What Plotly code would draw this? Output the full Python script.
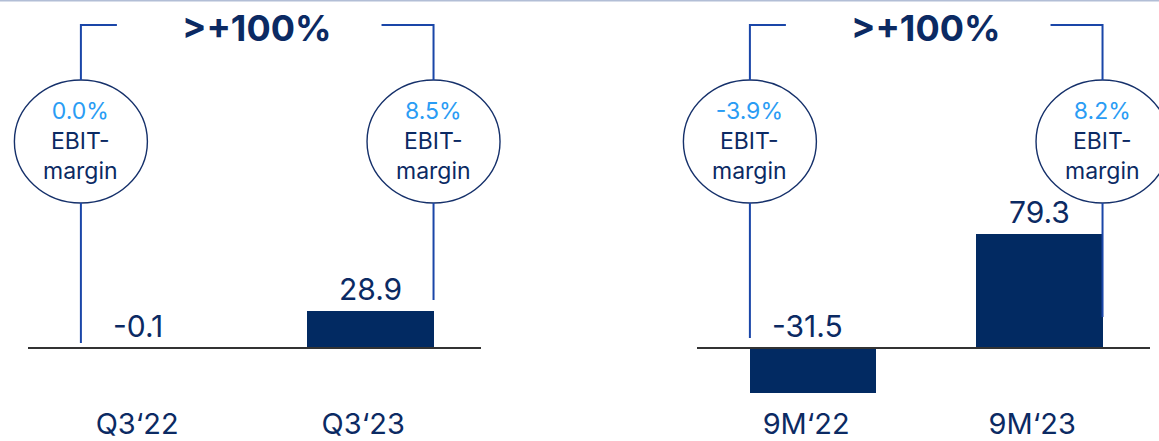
import plotly.graph_objects as go

# EBIT in EUR m, quarter and nine-month comparison
q_periods = ["Q3‘22", "Q3‘23"]
q_ebit = [-0.1, 28.9]
q_margin = ["0.0%", "8.5%"]

m_periods = ["9M‘22", "9M‘23"]
m_ebit = [-31.5, 79.3]
m_margin = ["-3.9%", "8.2%"]

growth_label = ">+100%"

W, H = 1159, 441
FONT = "Inter"
NAVY = "#0b2a63"
BAR = "#022a62"
LIGHT = "#2a9cf4"
BRACKET = "#1a46a8"
XRANGE = [-0.514, 1.49]
BAR_W = 0.56


def py(p):
    """pixel row -> paper y"""
    return 1 - p / H


def px(p):
    """pixel column -> paper x"""
    return p / W


fig = go.Figure()

panels = [
    dict(x="x", y="y", periods=q_periods, ebit=q_ebit, margin=q_margin,
         dom=(28, 481), yr=(348 / 1.28, -(400 - 348) / 1.28), stems=(343, 300)),
    dict(x="x2", y="y2", periods=m_periods, ebit=m_ebit, margin=m_margin,
         dom=(697, 1150), yr=(348 / 1.44, -(400 - 348) / 1.44), stems=(338, 317)),
]

shapes = []
annotations = []

for i, p in enumerate(panels):
    xs = list(range(len(p["periods"])))
    d0, d1 = p["dom"]
    scale = (d1 - d0) / (XRANGE[1] - XRANGE[0])

    def to_px(xv, d0=d0, scale=scale):
        return d0 + (xv - XRANGE[0]) * scale

    fig.add_trace(go.Bar(
        x=xs, y=p["ebit"], width=BAR_W, marker=dict(color=BAR, line=dict(width=0)),
        xaxis=p["x"], yaxis=p["y"], showlegend=False, hoverinfo="skip",
    ))
    sfx = "" if i == 0 else "2"
    fig.update_layout(**{
        "xaxis" + sfx: dict(
            domain=[px(d0), px(d1)], range=XRANGE,
            tickvals=xs, ticktext=p["periods"], showgrid=False, zeroline=False,
            showline=False, ticks="", ticklabelshift=-7, ticklabelstandoff=4,
            tickfont=dict(family=FONT, size=29, color=NAVY), fixedrange=True,
            automargin=False, anchor="y" + sfx,
        ),
        "yaxis" + sfx: dict(
            domain=[py(400), 1], range=[p["yr"][1], p["yr"][0]],
            showgrid=False, showticklabels=False, zeroline=False,
            fixedrange=True, automargin=False, anchor="x" + sfx,
        ),
    })

    # baseline drawn over the bars
    shapes.append(dict(type="line", xref=p["x"] + " domain", yref=p["y"],
                       x0=0, x1=1, y0=0, y1=0, layer="above",
                       line=dict(color="#333333", width=2)))

    # value labels above the bar (or above the axis for negative values)
    for xv, v in zip(xs, p["ebit"]):
        annotations.append(dict(
            x=xv, y=max(v, 0), xref=p["x"], yref=p["y"], text=f"{v:.1f}",
            showarrow=False, yanchor="middle", yshift=22, xshift=-6 if v < 0 else 0,
            font=dict(family=FONT, size=30, color=NAVY),
        ))

    # margin bubbles sit on the outer bar edges, joined by a bracket
    edges = [to_px(xs[0] - BAR_W / 2), to_px(xs[-1] + BAR_W / 2)]
    arms = [36, -52]
    rx = 66.5
    for edge, arm, m, stem in zip(edges, arms, p["margin"], p["stems"]):
        shapes.append(dict(type="circle", xref="paper", yref="paper",
                           x0=px(edge - rx), x1=px(edge + rx), y0=py(203), y1=py(80),
                           line=dict(color="#15306a", width=1.4)))
        shapes.append(dict(type="path", xref="paper", yref="paper",
                           path=(f"M {px(edge + arm)},{py(25)} L {px(edge)},{py(25)} "
                                 f"L {px(edge)},{py(80)}"),
                           line=dict(color=BRACKET, width=2)))
        shapes.append(dict(type="line", xref="paper", yref="paper",
                           x0=px(edge), x1=px(edge), y0=py(203), y1=py(stem),
                           line=dict(color=BRACKET, width=2)))
        annotations.append(dict(
            x=px(edge), y=py(141), xref="paper", yref="paper",
            text=f"<span style='color:{LIGHT}'>{m}</span><br>EBIT-<br>margin",
            showarrow=False, yanchor="middle", xanchor="center", align="center",
            font=dict(family=FONT, size=23, color=NAVY),
        ))

    annotations.append(dict(
        x=0.5, y=py(28), xref=p["x"], yref="paper", text=growth_label,
        showarrow=False, yanchor="middle",
        font=dict(family=FONT, size=36, color=NAVY, weight="bold"),
    ))

# thin rule along the top edge
shapes.append(dict(type="line", xref="paper", yref="paper", x0=0, x1=1,
                   y0=py(0.5), y1=py(0.5), line=dict(color="#b2bed6", width=2)))

fig.update_layout(
    width=W, height=H, autosize=False,
    margin=dict(l=0, r=0, t=0, b=0),
    paper_bgcolor="white", plot_bgcolor="white",
    shapes=shapes, annotations=annotations, bargap=0,
)

fig.write_html("out.html", config={"displayModeBar": False})
